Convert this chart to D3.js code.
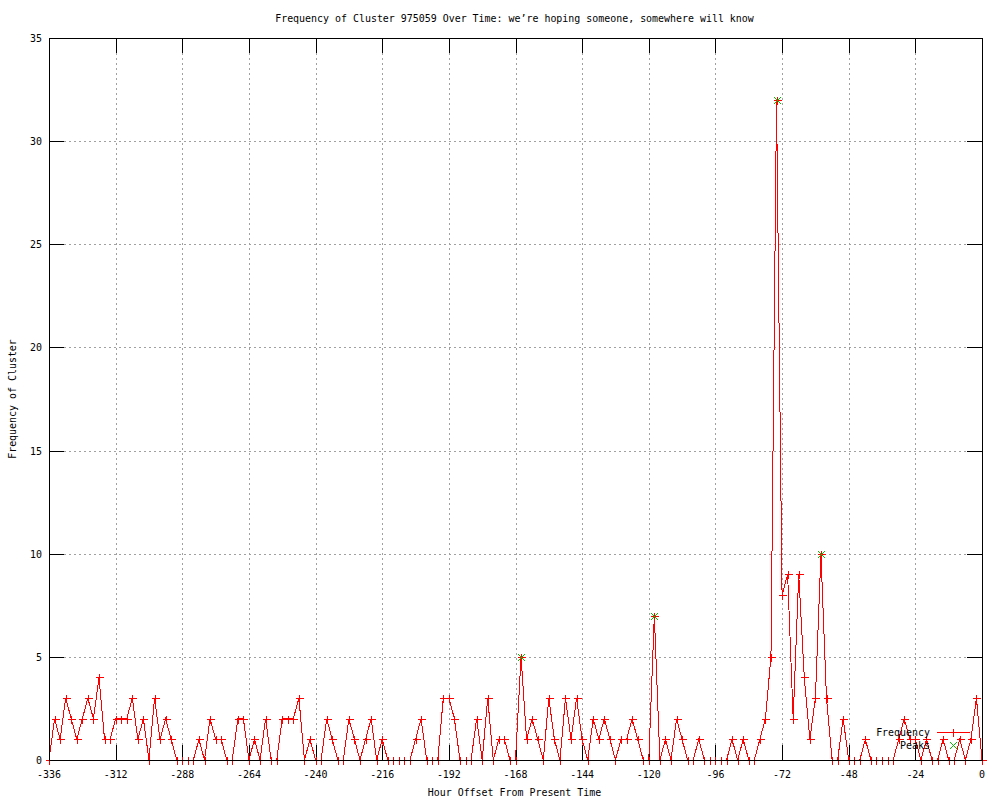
<!DOCTYPE html>
<html>
<head>
<meta charset="utf-8">
<script src="https://cdn.jsdelivr.net/npm/d3@7/dist/d3.min.js"></script>
<style>
  html, body { margin: 0; padding: 0; background: #fff; }
  svg { display: block; }
  text { font-family: "DejaVu Sans Mono", "Liberation Mono", monospace; font-size: 9.95px; fill: #000; }
</style>
</head>
<body>
<svg id="chart" width="1000" height="800"></svg>
<script>
// ---- data ----
const hourStart = -336, hourStep = 2;
const frequency = [
  0,2,1,3,2,1,2,3,2,4, 1,1,2,2,2,3,1,2,0,3,
  1,2,1,0,0,0,0,1,0,2, 1,1,0,0,2,2,0,1,0,2,
  0,0,2,2,2,3,0,1,0,0, 2,1,0,0,2,1,0,1,2,0,
  1,0,0,0,0,0,1,2,0,0, 0,3,3,2,0,0,0,2,0,3,
  0,1,1,0,0,5,1,2,1,0, 3,1,0,3,1,3,1,0,2,1,
  2,1,0,1,1,2,1,0,0,7, 0,1,0,2,1,0,0,1,0,0,
  0,0,0,1,0,1,0,0,1,2, 5,32,8,9,2,9,4,1,3,10,
  3,0,0,2,0,0,0,1,0,0, 0,0,0,1,2,1,1,0,1,0,
  0,1,0,0,1,0,1,3,0
];
const hours = frequency.map((_, i) => hourStart + i * hourStep);
const peakHours = [-166, -118, -74, -58];
const peakValues = [5, 7, 32, 10];
const xTicks = [-336, -312, -288, -264, -240, -216, -192, -168, -144, -120, -96, -72, -48, -24, 0];
const yTicks = [0, 5, 10, 15, 20, 25, 30, 35];
const titleText = "Frequency of Cluster 975059 Over Time: we\u2019re hoping someone, somewhere will know";
const xLabel = "Hour Offset From Present Time";
const yLabel = "Frequency of Cluster";
const legendNames = ["Frequency", "Peaks"];

// ---- layout ----
const L = 49, R = 982, T = 38, B = 760;
const svg = d3.select("#chart");
const x = d3.scaleLinear().domain([-336, 0]).range([L, R]);
const y = d3.scaleLinear().domain([0, 35]).range([B, T]);
const red = "#ff0000", green = "#00c000";
const tickLen = 15;

// grid
const grid = svg.append("g").attr("shape-rendering", "crispEdges")
  .attr("stroke", "#a0a0a0").attr("stroke-width", 1).attr("stroke-dasharray", "2,3");
grid.selectAll("line.gx").data(xTicks.filter(d => d !== -336 && d !== 0)).enter().append("line")
  .attr("x1", d => Math.round(x(d)) + 0.5).attr("x2", d => Math.round(x(d)) + 0.5)
  .attr("y1", T).attr("y2", B);
grid.selectAll("line.gy").data(yTicks.filter(d => d !== 0 && d !== 35)).enter().append("line")
  .attr("y1", d => Math.round(y(d)) + 0.5).attr("y2", d => Math.round(y(d)) + 0.5)
  .attr("x1", L).attr("x2", R);

// ticks (inside, mirrored)
const ticks = svg.append("g").attr("shape-rendering", "crispEdges").attr("stroke", "#000").attr("stroke-width", 1);
xTicks.forEach(d => {
  const px = Math.round(x(d)) + 0.5;
  ticks.append("line").attr("x1", px).attr("x2", px).attr("y1", B).attr("y2", B - tickLen);
  ticks.append("line").attr("x1", px).attr("x2", px).attr("y1", T).attr("y2", T + tickLen);
});
yTicks.forEach(d => {
  const py = Math.round(y(d)) + 0.5;
  ticks.append("line").attr("y1", py).attr("y2", py).attr("x1", L).attr("x2", L + tickLen);
  ticks.append("line").attr("y1", py).attr("y2", py).attr("x1", R).attr("x2", R - tickLen);
});

// data line
const pts = hours.map((h, i) => [h, frequency[i]]);
const line = d3.line().x(d => x(d[0])).y(d => y(d[1]));
svg.append("path").datum(pts).attr("d", line)
  .attr("fill", "none").attr("stroke", red).attr("stroke-width", 1).attr("shape-rendering", "crispEdges");

function xMark(g, cx, cy, s, col) {
  g.append("line").attr("x1", cx - s).attr("y1", cy - s).attr("x2", cx + s).attr("y2", cy + s).attr("stroke", col);
  g.append("line").attr("x1", cx - s).attr("y1", cy + s).attr("x2", cx + s).attr("y2", cy - s).attr("stroke", col);
}
function plusMark(g, cx, cy, s) {
  g.append("line").attr("x1", cx - s).attr("y1", cy).attr("x2", cx + s).attr("y2", cy);
  g.append("line").attr("x1", cx).attr("y1", cy - s).attr("x2", cx).attr("y2", cy + s);
}

// frequency markers (+)
const mk = svg.append("g").attr("stroke", red).attr("stroke-width", 1).attr("shape-rendering", "crispEdges");
pts.forEach(d => plusMark(mk, Math.round(x(d[0])) + 0.5, Math.round(y(d[1])) + 0.5, 4));

// peak markers (x) on top
const pk = svg.append("g").attr("stroke", green).attr("stroke-width", 1).attr("shape-rendering", "crispEdges");
peakHours.forEach((h, i) => xMark(pk, Math.round(x(h)) + 0.5, Math.round(y(peakValues[i])) + 0.5, 3.5, green));

// border
svg.append("rect").attr("x", L + 0.5).attr("y", T + 0.5).attr("width", R - L).attr("height", B - T)
  .attr("fill", "none").attr("stroke", "#000").attr("stroke-width", 1).attr("shape-rendering", "crispEdges");

// tick labels
svg.append("g").selectAll("text").data(xTicks).enter().append("text")
  .attr("x", d => x(d)).attr("y", B + 15).attr("text-anchor", "middle").attr("dominant-baseline", "middle")
  .text(d => String(d));
svg.append("g").selectAll("text").data(yTicks).enter().append("text")
  .attr("x", L - 7).attr("y", d => y(d) + 1).attr("text-anchor", "end").attr("dominant-baseline", "middle")
  .text(d => String(d));

// titles
svg.append("text").attr("x", (L + R) / 2 - 1).attr("y", 19).attr("text-anchor", "middle")
  .attr("dominant-baseline", "middle").text(titleText);
svg.append("text").attr("x", (L + R) / 2 - 1).attr("y", 793).attr("text-anchor", "middle")
  .attr("dominant-baseline", "middle").text(xLabel);
svg.append("text").attr("transform", "translate(13," + 399 + ") rotate(-90)").attr("text-anchor", "middle")
  .attr("dominant-baseline", "middle").text(yLabel);

// legend
const lg = svg.append("g");
lg.append("text").attr("x", 930).attr("y", 733).attr("text-anchor", "end").attr("dominant-baseline", "middle").text(legendNames[0]);
lg.append("text").attr("x", 930).attr("y", 746).attr("text-anchor", "end").attr("dominant-baseline", "middle").text(legendNames[1]);
lg.append("line").attr("x1", 937).attr("x2", 970).attr("y1", 732.5).attr("y2", 732.5)
  .attr("stroke", red).attr("shape-rendering", "crispEdges");
plusMark(lg.append("g").attr("stroke", red).attr("shape-rendering", "crispEdges"), 953.5, 732.5, 4);
xMark(lg.append("g").attr("shape-rendering", "crispEdges"), 953.5, 745.5, 3.5, green);
</script>
</body>
</html>
